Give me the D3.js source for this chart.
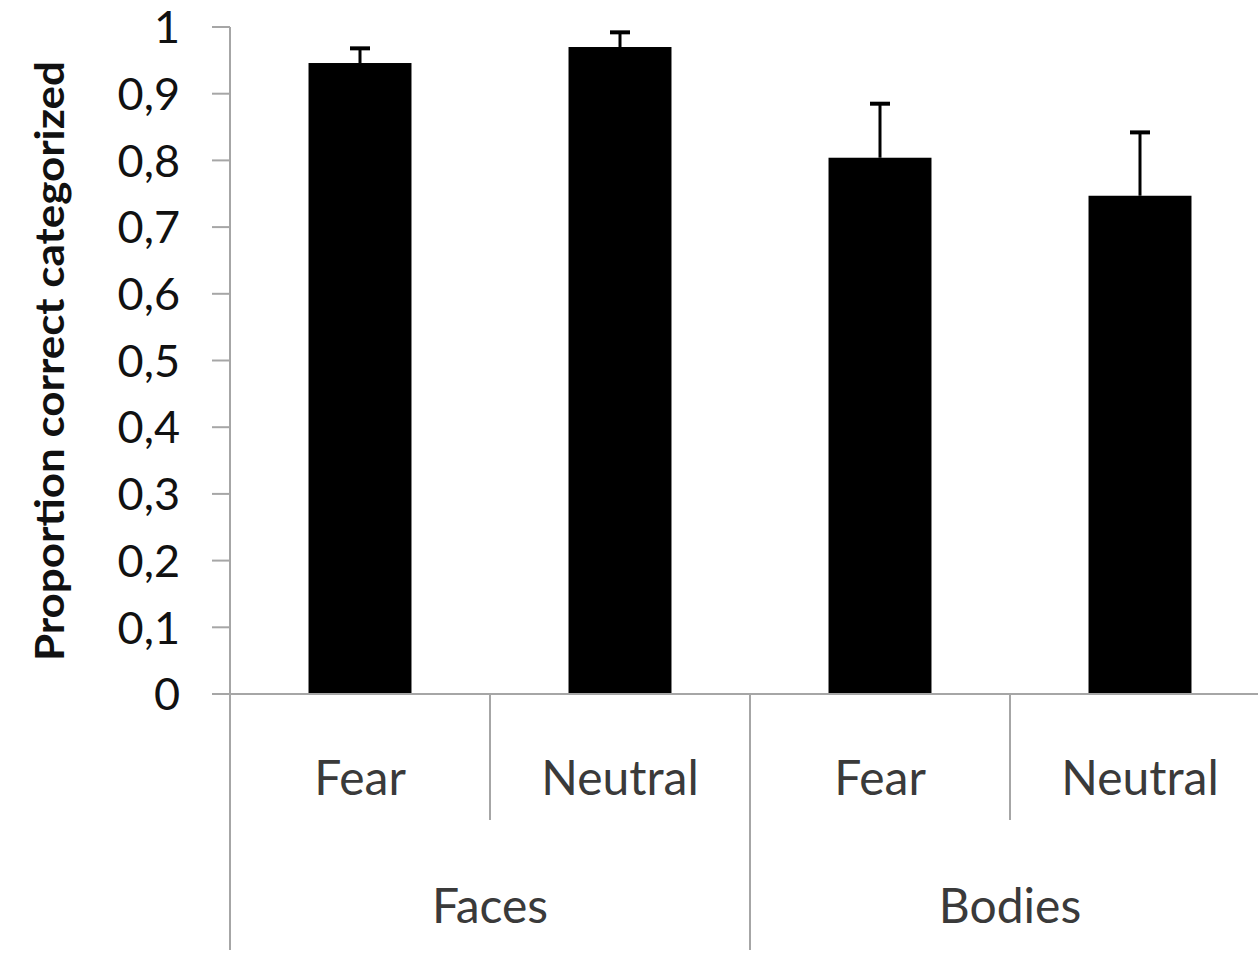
<!DOCTYPE html>
<html><head><meta charset="utf-8">
<script src="https://cdn.jsdelivr.net/npm/d3@7"></script>
<style>body{margin:0;background:#fff}svg{display:block}</style>
</head><body>
<svg id="c" width="1258" height="953"></svg>
<script>
const categories = ["Fear","Neutral","Fear","Neutral"];
const groups = ["Faces","Bodies"];
const values = [0.946, 0.970, 0.804, 0.747];
const errors = [0.022, 0.022, 0.081, 0.095];
const yTicks = [0,0.1,0.2,0.3,0.4,0.5,0.6,0.7,0.8,0.9,1];
const yTickLabels = ["0","0,1","0,2","0,3","0,4","0,5","0,6","0,7","0,8","0,9","1"];
const yTitle = "Proportion correct categorized";

const svg = d3.select("#c");
const font = "Lato, 'Open Sans', sans-serif";
const axisCol = "#a6a6a6";
const y = d3.scaleLinear().domain([0,1]).range([694,27]);
const x = d3.scaleBand().domain(d3.range(categories.length)).range([230,1270]).paddingInner(0).paddingOuter(0);
const bw = x.bandwidth()*0.396;

// bars
svg.selectAll("rect.bar").data(values).join("rect")
  .attr("x",(d,i)=>x(i)+x.bandwidth()/2-bw/2).attr("width",bw)
  .attr("y",d=>y(d)).attr("height",d=>y(0)-y(d)).attr("fill","#000");

// error bars
const eg = svg.append("g").attr("stroke","#000").attr("stroke-width",3);
values.forEach((v,i)=>{
  const cx = x(i)+x.bandwidth()/2;
  eg.append("line").attr("x1",cx).attr("x2",cx).attr("y1",y(v)).attr("y2",y(v+errors[i]));
  eg.append("line").attr("x1",cx-10).attr("x2",cx+10).attr("y1",y(v+errors[i])).attr("y2",y(v+errors[i])).attr("stroke-width",4);
});

// y axis
const ya = svg.append("g").attr("stroke",axisCol).attr("stroke-width",2);
ya.append("line").attr("x1",230).attr("x2",230).attr("y1",y(1)).attr("y2",950);
ya.selectAll("line.t").data(yTicks).join("line").attr("class","t")
  .attr("x1",212).attr("x2",230).attr("y1",d=>y(d)).attr("y2",d=>y(d));
svg.append("g").selectAll("text").data(yTicks).join("text")
  .attr("x",180).attr("y",d=>y(d)).attr("dy","0.36em").attr("text-anchor","end")
  .attr("font-family",font).attr("font-size",45).attr("fill","#111")
  .text((d,i)=>yTickLabels[i]);

// x axis
const xa = svg.append("g").attr("stroke",axisCol).attr("stroke-width",2);
xa.append("line").attr("x1",212).attr("x2",1258).attr("y1",y(0)).attr("y2",y(0));
categories.forEach((c,i)=>{
  if(i>0){
    const bx = x(i);
    const isGroup = i%2===0;
    xa.append("line").attr("x1",bx).attr("x2",bx).attr("y1",y(0)).attr("y2",isGroup?950:820);
  }
});
svg.append("g").selectAll("text").data(categories).join("text")
  .attr("x",(d,i)=>x(i)+x.bandwidth()/2).attr("y",778).attr("dy","0.36em")
  .attr("text-anchor","middle").attr("font-family",font).attr("font-size",48).attr("fill","#3a3a3a")
  .text(d=>d);
svg.append("g").selectAll("text").data(groups).join("text")
  .attr("x",(d,i)=>(x(i*2)+x(i*2+1)+x.bandwidth())/2).attr("y",906).attr("dy","0.36em")
  .attr("text-anchor","middle").attr("font-family",font).attr("font-size",48).attr("fill","#3a3a3a")
  .text(d=>d);

// y title
svg.append("text").attr("transform","translate(50,361) rotate(-90)")
  .attr("text-anchor","middle").attr("dy","0.36em").attr("font-family",font)
  .attr("font-weight","bold").attr("font-size",40).attr("fill","#111")
  .attr("textLength",600).attr("lengthAdjust","spacingAndGlyphs").text(yTitle);
</script>
</body></html>
